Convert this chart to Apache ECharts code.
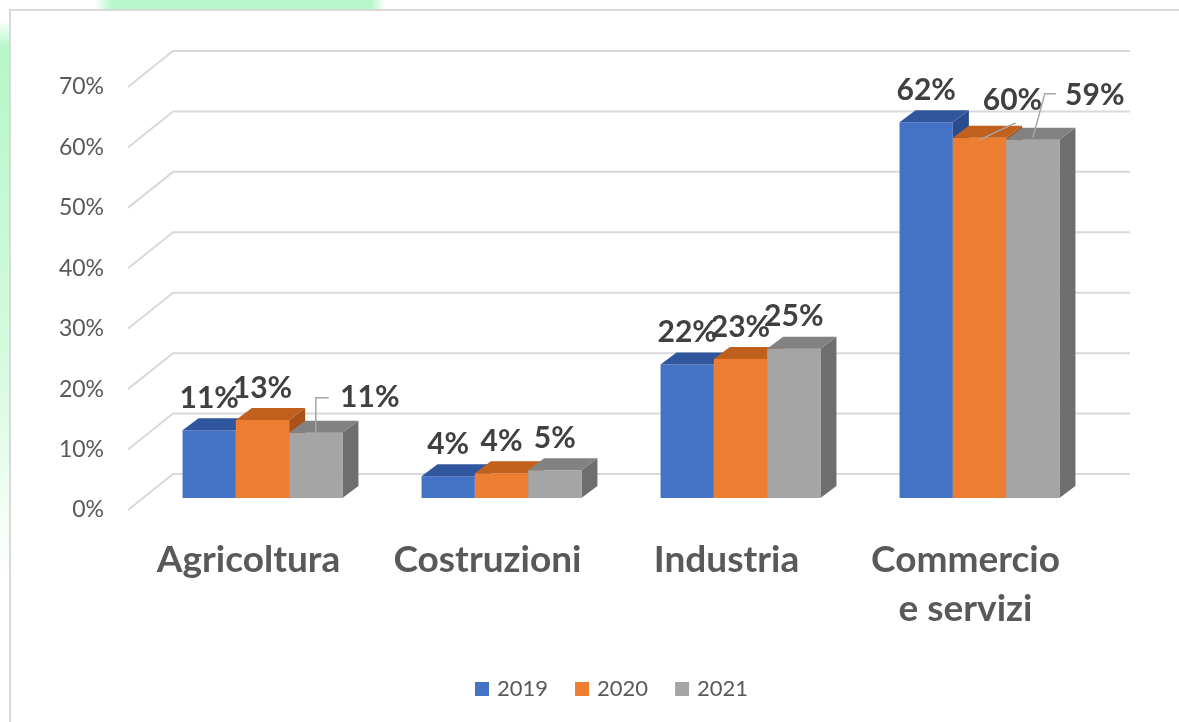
<!DOCTYPE html>
<html>
<head>
<meta charset="utf-8">
<script src="https://cdn.jsdelivr.net/npm/echarts@6/dist/echarts.min.js"></script>
<style>
  html, body { margin: 0; padding: 0; background: #fff; }
  #chart { width: 1179px; height: 722px; }
</style>
</head>
<body>
<div id="chart"></div>
<script>
// dati
const categories = ['Agricoltura', 'Costruzioni', 'Industria', 'Commercio\ne servizi'];
const years = ['2019', '2020', '2021'];
const values2019 = [11.2, 3.6, 22.1, 62.2];
const values2020 = [12.9, 4.1, 23.0, 59.6];
const values2021 = [10.8, 4.6, 24.7, 59.3];
const yTicks = [0, 10, 20, 30, 40, 50, 60, 70];

const allValues = [values2019, values2020, values2021];

// colori: fronte, sopra, lato
const palette = [
  { front: '#4472C4', top: '#30569E', side: '#2B4C8C' },
  { front: '#ED7D31', top: '#C0601C', side: '#A9531A' },
  { front: '#A5A5A5', top: '#828282', side: '#6E6E6E' }
];

const DX = 16, DY = -12, FRONT_SHIFT = -12;
const labelColor = '#404040';

// etichette spostate (come in Excel) e relative linee guida
const moved = {
  '0-2': { dx: 54, dy: -3, leader: (cx, ty, lx, ly) => [[cx, ty], [lx - 54, ly], [lx - 41, ly]] },
  '3-1': { dx: 33, dy: -6, leader: (cx, ty, lx, ly) => [[cx, ty + 2], [lx + 3, ly + 23]] },
  '3-2': { dx: 62, dy: -12, leader: (cx, ty, lx, ly) => [[cx, ty - 2], [lx - 50, ly - 2], [lx - 39, ly - 2]] }
};

function barRenderer(si) {
  return function (params, api) {
    const ci = api.value(0);
    const v = api.value(1);
    const band = api.size([1, 0])[0];
    const w = band * 0.223;
    const center = api.coord([ci, 0])[0];
    const x = center - 1.5 * w + si * w;
    const base = api.coord([ci, 0])[1] + FRONT_SHIFT;
    const top = api.coord([ci, v])[1] + FRONT_SHIFT;
    const c = palette[si];
    const children = [
      { type: 'polygon', shape: { points: [[x + w, top], [x + w + DX, top + DY], [x + w + DX, base + DY], [x + w, base]] }, style: { fill: c.side } },
      { type: 'rect', shape: { x: x, y: top, width: w, height: base - top }, style: { fill: c.front } },
      { type: 'polygon', shape: { points: [[x, top], [x + DX, top + DY], [x + w + DX, top + DY], [x + w, top]] }, style: { fill: c.top } }
    ];
    const cx = x + w / 2;
    let lx = cx, ly = top + DY - 20;
    const m = moved[ci + '-' + si];
    if (m) {
      lx += m.dx; ly += m.dy;
      children.push({ type: 'polyline', shape: { points: m.leader(cx, top, lx, ly) }, style: { stroke: '#A6A6A6', lineWidth: 1.5, fill: null } });
    }
    children.push({
      type: 'text', z2: 10,
      style: { text: Math.round(v) + '%', x: lx, y: ly, align: 'center', verticalAlign: 'middle', fill: labelColor, font: 'bold 30px Lato' }
    });
    return { type: 'group', children: children };
  };
}

function wallRenderer(params, api) {
  const v = api.value(0);
  const y = api.coord([0, v])[1];
  const left = params.coordSys.x;
  const right = params.coordSys.x + params.coordSys.width;
  return {
    type: 'polyline',
    shape: { points: [[left - 15, y], [left + 30, y - 36], [right + 31, y - 36]] },
    style: { stroke: '#D9D9D9', lineWidth: 2, fill: null }
  };
}

const chart = echarts.init(document.getElementById('chart'));

const series = [{
  type: 'custom', name: 'wall', silent: true, z: 1,
  renderItem: wallRenderer,
  encode: { y: 0 },
  data: yTicks.map(t => [t])
}];
years.forEach((yr, si) => {
  series.push({
    type: 'custom', name: yr, z: 5 + si,
    itemStyle: { color: palette[si].front },
    renderItem: barRenderer(si),
    encode: { x: 0, y: 1 },
    data: allValues[si].map((v, i) => [i, v])
  });
});

chart.setOption({
  backgroundColor: '#fff',
  animation: false,
  graphic: [
    { type: 'rect', shape: { x: 95, y: 0, width: 290, height: 9 }, style: { fill: new echarts.graphic.LinearGradient(0, 0, 1, 0, [{ offset: 0, color: '#fff' }, { offset: 0.06, color: '#B5F7C8' }, { offset: 0.95, color: '#B5F7C8' }, { offset: 1, color: '#fff' }]) }, z: 0 },
    { type: 'rect', shape: { x: 0, y: 20, width: 9, height: 560 }, style: { fill: new echarts.graphic.LinearGradient(0, 0, 0, 1, [{ offset: 0, color: '#fff' }, { offset: 0.05, color: '#B5F7C8' }, { offset: 0.6, color: '#D5FADF' }, { offset: 1, color: '#fff' }]) }, z: 0 },
    { type: 'polyline', shape: { points: [[10, 722], [10, 10], [1179, 10]] }, style: { stroke: '#D9D9D9', lineWidth: 2, fill: null }, z: 1 }
  ],
  legend: {
    data: years,
    left: 470, top: 673,
    icon: 'rect', itemWidth: 14, itemHeight: 14, itemGap: 27,
    textStyle: { fontFamily: 'Lato', fontSize: 22, color: '#595959', padding: [0, 0, 0, 3] }
  },
  grid: { left: 143, right: 80, top: 87, bottom: 212 },
  xAxis: {
    type: 'category',
    data: categories,
    axisLine: { show: false },
    axisTick: { show: false },
    axisLabel: {
      margin: 26, fontFamily: 'Lato', fontWeight: 'bold', fontSize: 37, lineHeight: 49,
      color: '#595959', padding: [0, 28, 0, 0], interval: 0
    }
  },
  yAxis: {
    type: 'value', min: 0, max: 70, interval: 10,
    axisLine: { show: false }, axisTick: { show: false },
    splitLine: { show: false },
    axisLabel: { margin: 39, fontFamily: 'Lato', fontSize: 23, color: '#595959', formatter: '{value}%' }
  },
  series: series
});
</script>
</body>
</html>
